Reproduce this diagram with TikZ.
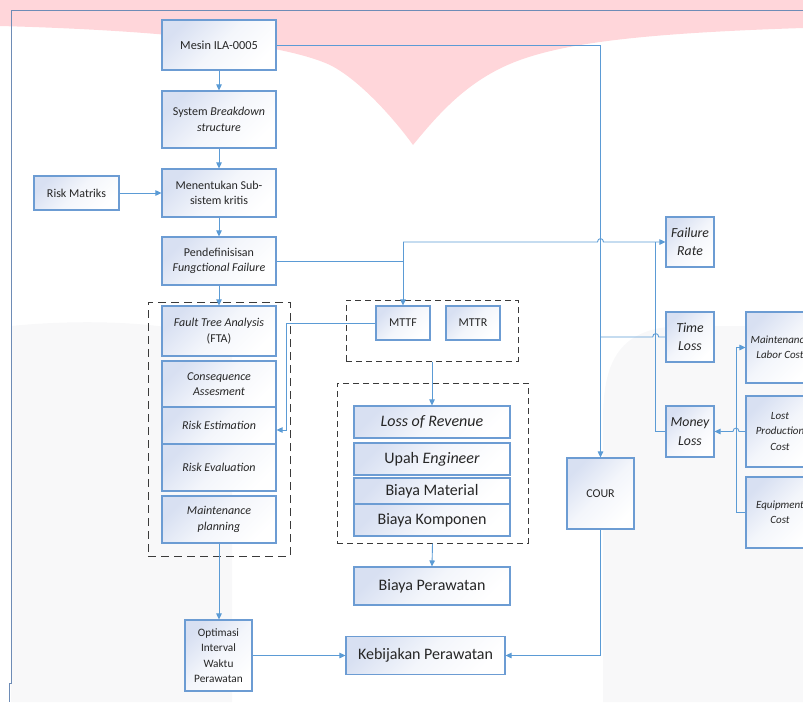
\documentclass[tikz,border=0pt]{standalone}
\usepackage{fontspec}
\setmainfont{Carlito}
\usetikzlibrary{arrows.meta}
\definecolor{lblue}{HTML}{5B9BD5}
\definecolor{bborder}{HTML}{6C9CD3}
\definecolor{bfill}{HTML}{D8E0F2}
\definecolor{framec}{HTML}{6E8CB6}
\definecolor{pinkw}{HTML}{FFD6DA}
\definecolor{grayw}{HTML}{F8F8F9}
\definecolor{dashc}{HTML}{3A3A3A}
\begin{document}
\begin{tikzpicture}[x=1pt,y=-1pt,
  box/.style={draw=bborder, line width=1.1pt, top color=bfill, bottom color=white, middle color=white!70!bfill, shading angle=45,
    inner sep=1pt, align=center, text=black!85, font=\fontsize{12}{15.5}\selectfont},
  ibox/.style={box, font=\fontsize{12}{15.5}\selectfont\itshape},
  bigbox/.style={box, font=\fontsize{16}{18}\selectfont},
  rbox/.style={box, font=\fontsize{13.8}{18.5}\selectfont\itshape},
  sbox/.style={box, font=\fontsize{11}{15.2}\selectfont\itshape},
  dashbox/.style={draw=dashc, line width=1pt, dash pattern=on 6pt off 4pt, inner sep=0pt},
  conn/.style={draw=lblue, line width=0.9pt},
  arr/.style={conn, -{Triangle[length=6pt,width=5.5pt]}}]
\useasboundingbox (0,0) rectangle (803,702);
\clip (0,0) rectangle (803,702);
% watermark background
\fill[grayw] (11,326) .. controls (90,318) and (190,322) .. (232,345) -- (232,702) -- (11,702) -- cycle;
\fill[grayw] (603,702) -- (603,420) .. controls (603,360) and (620,328) .. (680,326) -- (803,326) -- (803,702) -- cycle;
\fill[pinkw] (0,0) -- (803,0) -- (803,28) .. controls (650,33) and (570,42) .. (520,60)
  .. controls (470,78) and (440,112) .. (413,145)
  .. controls (395,120) and (360,80) .. (330,65)
  .. controls (280,42) and (150,30) .. (0,26) -- cycle;
% frame
\draw[framec, line width=1pt] (803,10) -- (11,10) -- (11,683) -- (9,683) -- (9,702);

% dashed groups
\node[dashbox, minimum width=142, minimum height=254, dash pattern=on 8pt off 5pt] (d1) at (219,429) {};
\node[dashbox, minimum width=172, minimum height=61] (d2) at (432,330.5) {};
\node[dashbox, minimum width=191, minimum height=160] (d3) at (432.5,463) {};

% main column
\node[box, minimum width=114, minimum height=50, font=\fontsize{12.3}{15.5}\selectfont] (mesin) at (219,45) {Mesin ILA-0005};
\node[box, minimum width=114, minimum height=57] (sbs) at (219,119.5) {System \textit{Breakdown}\\\textit{structure}};
\node[box, minimum width=114, minimum height=48] (ment) at (219,193) {Menentukan Sub-\\sistem kritis};
\node[box, minimum width=85, minimum height=34] (risk) at (76.5,193) {Risk Matriks};
\node[box, minimum width=114, minimum height=48] (pend) at (219,261) {Pendefinisisan\\\textit{Fungctional Failure}};
\node[box, minimum width=114, minimum height=50] (fta) at (219,331) {\textit{Fault Tree Analysis}\\(FTA)};
\node[ibox, minimum width=114, minimum height=46] (cons) at (219,384) {Consequence\\Assesment};
\node[ibox, minimum width=114, minimum height=37] (rest) at (219,425.5) {\raisebox{-3pt}{Risk Estimation}};
\node[ibox, minimum width=114, minimum height=47] (reval) at (219,467.5) {Risk Evaluation};
\node[ibox, minimum width=114, minimum height=47] (mplan) at (219,519.5) {Maintenance\\planning};
\node[box, minimum width=67, minimum height=71, font=\fontsize{11.3}{15.4}\selectfont] (optim) at (218.5,655.5) {Optimasi\\Interval\\Waktu\\Perawatan};

% middle column
\node[box, minimum width=54, minimum height=34] (mttf) at (403,323) {MTTF};
\node[box, minimum width=54, minimum height=34] (mttr) at (473,323) {MTTR};
\node[bigbox, minimum width=156, minimum height=32, font=\fontsize{16}{18}\selectfont\itshape] (lor) at (432,422) {Loss of Revenue};
\node[bigbox, minimum width=156, minimum height=32] (upah) at (432,459) {Upah \textit{Engineer}};
\node[bigbox, minimum width=156, minimum height=26] (bmat) at (432,491) {Biaya Material};
\node[bigbox, minimum width=156, minimum height=32] (bkom) at (432,520) {Biaya Komponen};
\node[bigbox, minimum width=156, minimum height=38] (bper) at (432,586) {Biaya Perawatan};
\node[bigbox, minimum width=159, minimum height=38] (kebij) at (425.5,655.5) {Kebijakan Perawatan};

% right side
\node[box, minimum width=67, minimum height=71] (cour) at (600.5,493.5) {COUR};
\node[rbox, minimum width=48, minimum height=50] (frate) at (690,242) {Failure\\Rate};
\node[rbox, minimum width=48, minimum height=50] (tloss) at (690,337) {Time\\Loss};
\node[rbox, minimum width=48, minimum height=51] (mloss) at (690,431.5) {Money\\Loss};
\node[sbox, minimum width=68, minimum height=71] (mlc) at (780,347.5) {Maintenance\\Labor Cost};
\node[sbox, minimum width=68, minimum height=71] (lpc) at (780,431.5) {Lost\\Production\\Cost};
\node[sbox, minimum width=68, minimum height=71] (eqc) at (780,512.5) {Equipment\\Cost};

% connectors
\draw[arr] (mesin) -- (sbs);
\draw[arr] (sbs) -- (ment);
\draw[arr] (ment) -- (pend);
\draw[arr] (pend) -- (fta);
\draw[arr] (risk) -- (ment);
\draw[arr] (mesin.east) -| (cour.north);
\coordinate (j1) at (403,242);
\coordinate (j2) at (655.7,242);
\draw[conn] (pend.east) -- (pend.east -| j1) -- (j1);
\draw[arr] (j1) -- (mttf.north);
\draw[arr] (j1) -- (597.5,242) .. controls (597.5,237.5) and (603.5,237.5) .. (603.5,242) -- (frate.west);
\draw[conn] (j2) |- (mloss.west);
\draw[conn] (tloss.west) -- (658.7,337) .. controls (658.7,332.5) and (652.7,332.5) .. (652.7,337) -- (600.5,337);
\draw[arr] (lpc.west) -- (739,431.5) .. controls (739,427) and (733,427) .. (733,431.5) -- (mloss.east);
\draw[arr] (eqc.west) -| (736,347.5) -- (mlc.west);
\coordinate (fj) at (286,430);
\draw[arr] (mttf.west) -| (fj) -- (fj -| rest.east);
\draw[arr] (d2.south) -- (lor.north);
\draw[arr] (d3.south) -- (bper.north);
\draw[arr] (mplan.south) -- (mplan.south |- optim.north);
\draw[arr] (optim.east) -- (kebij.west);
\draw[arr] (cour.south) |- (kebij.east);
\end{tikzpicture}
\end{document}
